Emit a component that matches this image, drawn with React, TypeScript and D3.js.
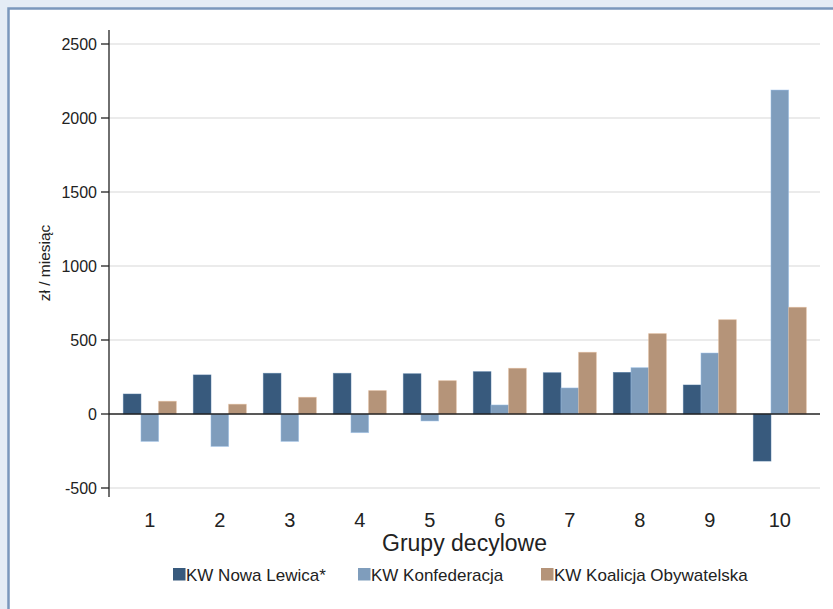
import React from 'react'
import * as d3 from 'd3'

const categories = ['1', '2', '3', '4', '5', '6', '7', '8', '9', '10']
const seriesNames = ['KW Nowa Lewica*', 'KW Konfederacja', 'KW Koalicja Obywatelska']
const nowaLewica = [135, 264, 275, 275, 272, 286, 279, 281, 196, -318]
const konfederacja = [-185, -219, -185, -126, -47, 61, 176, 313, 412, 2189]
const koalicja = [86, 66, 113, 158, 225, 309, 417, 543, 637, 721]
const yTicks = [-500, 0, 500, 1000, 1500, 2000, 2500]
const colors = ['#385a7d', '#7f9dbc', '#b59479']

const W = 833
const H = 609
const font = 'Liberation Sans, Arial, sans-serif'

export default function App() {
    const series = [nowaLewica, konfederacja, koalicja]
    const plotLeft = 109
    const plotRight = 820

    const y = d3.scaleLinear().domain([-500, 2500]).range([488, 44])
    const x = d3.scaleBand<string>()
        .domain(categories)
        .range([114.8, 814.8])
        .paddingInner(0.243)
        .paddingOuter(0.1215)
    const xs = d3.scaleBand<number>()
        .domain(d3.range(series.length))
        .range([0, x.bandwidth()])

    // legend positions (square start x)
    const legendX = [173, 358, 541]

    return (
        <svg width={W} height={H} style={{position: 'absolute', left: 0, top: 0}}>
            <rect x={0} y={0} width={W} height={H} fill="#e4ecf5"/>
            <rect x={8.5} y={8.5} width={W} height={H} fill="#ffffff" stroke="#7a97bc" strokeWidth={2.5}/>

            {/* gridlines */}
            {yTicks.filter(t => t !== 0).map(t => (
                <line key={t} x1={plotLeft} x2={plotRight} y1={y(t)} y2={y(t)} stroke="#e4e4e4" strokeWidth={1.5}/>
            ))}

            {/* bars */}
            {series.map((vals, si) => (
                <g key={si}>
                    {vals.map((v, i) => (
                        <rect
                            key={i}
                            x={(x(categories[i]) ?? 0) + (xs(si) ?? 0)}
                            y={y(Math.max(0, v))}
                            width={xs.bandwidth()}
                            height={Math.abs(y(v) - y(0))}
                            fill={colors[si]}
                            stroke={d3.color(colors[si])!.brighter(0.6).toString()}
                            strokeOpacity={0.6}
                            strokeWidth={0.8}
                        />
                    ))}
                </g>
            ))}

            {/* zero line */}
            <line x1={plotLeft} x2={plotRight} y1={y(0)} y2={y(0)} stroke="#222" strokeWidth={1.3}/>

            {/* y axis */}
            <line x1={plotLeft} x2={plotLeft} y1={30} y2={497} stroke="#222" strokeWidth={1.3}/>
            {yTicks.map(t => (
                <g key={t}>
                    <line x1={plotLeft - 8} x2={plotLeft} y1={y(t)} y2={y(t)} stroke="#222" strokeWidth={1.3}/>
                    <text x={plotLeft - 12} y={y(t)} dy="0.35em" textAnchor="end" fontFamily={font}
                          fontSize={16} fill="#222">{t}</text>
                </g>
            ))}
            <text transform={`translate(50,263) rotate(-90)`} textAnchor="middle" fontFamily={font}
                  fontSize={15.5} fill="#222">zł / miesiąc</text>

            {/* x labels */}
            {categories.map(c => (
                <text key={c} x={(x(c) ?? 0) + x.bandwidth() / 2} y={527} textAnchor="middle"
                      fontFamily={font} fontSize={20} fill="#222">{c}</text>
            ))}
            <text x={(plotLeft + plotRight) / 2} y={551} textAnchor="middle" fontFamily={font}
                  fontSize={23} fill="#222">Grupy decylowe</text>

            {/* legend */}
            {seriesNames.map((name, i) => (
                <g key={name}>
                    <rect x={legendX[i]} y={568} width={12.5} height={12.5} fill={colors[i]}/>
                    <text x={legendX[i] + 13} y={580.5} fontFamily={font} fontSize={17} fill="#222">{name}</text>
                </g>
            ))}
        </svg>
    )
}
